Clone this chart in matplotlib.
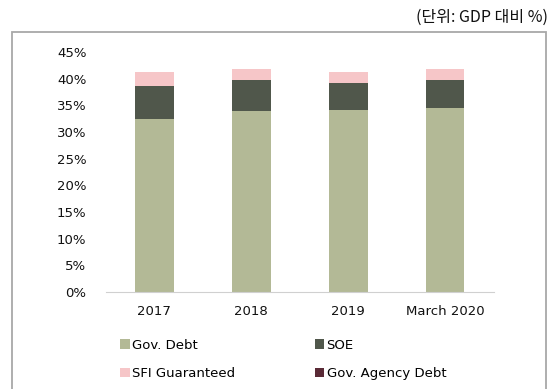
import matplotlib.pyplot as plt
import matplotlib.patches as mpatches
import numpy as np

periods = ["2017", "2018", "2019", "March 2020"]
gov_debt = [32.5, 34.0, 34.1, 34.6]
soe = [6.1, 5.7, 5.15, 5.2]
sfi_guaranteed = [2.6, 2.05, 2.0, 1.95]
agency_debt = [0.1, 0.04, 0.08, 0.04]

series = [
    ("Gov. Debt", gov_debt, "#b3b996"),
    ("SOE", soe, "#50574b"),
    ("SFI Guaranteed", sfi_guaranteed, "#f6c6c8"),
    ("Gov. Agency Debt", agency_debt, "#5a2a36"),
]

fig = plt.figure(figsize=(5.57, 3.89), dpi=100)
ax = fig.add_axes([0.190, 0.249, 0.696, 0.617])

x = np.arange(len(periods))
bottom = np.zeros(len(periods))
handles = {}
for name, vals, col in series:
    b = ax.bar(x, vals, width=0.4, bottom=bottom, color=col, label=name)
    handles[name] = b
    bottom += np.array(vals)

ax.set_xlim(-0.5, 3.5)
ax.set_ylim(0, 45)
ax.set_yticks(range(0, 46, 5))
ax.set_yticklabels([f"{v}%" for v in range(0, 46, 5)], fontsize=9.5, color="#111111")
ax.set_xticks(x)
ax.set_xticklabels(periods, fontsize=9.5, color="#111111")
ax.tick_params(length=0, axis="y", pad=14)
ax.tick_params(length=0, axis="x", pad=9)
for s in ["top", "right", "left"]:
    ax.spines[s].set_visible(False)
ax.spines["bottom"].set_color("#d0d0d0")

order = ["Gov. Debt", "SFI Guaranteed", "SOE", "Gov. Agency Debt"]
fig.legend([handles[n] for n in order], order, ncol=2, frameon=False,
           loc="upper left", bbox_to_anchor=(0.195, 0.16),
           fontsize=9.5, handlelength=0.7, handleheight=0.7,
           handletextpad=0.2, columnspacing=6.0, labelspacing=1.15)

# outer frame around the chart
fig.patches.append(mpatches.Rectangle((12 / 557, -0.05), 534 / 557, 1 - 32 / 389 + 0.05,
                                      transform=fig.transFigure, fill=False,
                                      edgecolor="#a8a8a8", lw=1.3))

fig.text(548 / 557, 1 - 17 / 389, "(단위: GDP 대비 %)", ha="right", va="center",
         fontsize=11.5, family=["Noto Sans CJK KR", "DejaVu Sans"], color="#111111")

fig.savefig("out.png", dpi=100)
